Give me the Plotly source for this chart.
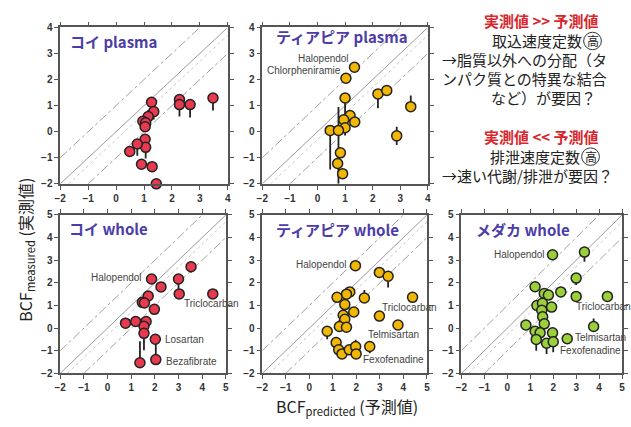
import plotly.graph_objects as go

W, H = 631, 427

# ---------------- data ----------------
# コイ plasma
p1_x = [1.27, 2.27, 2.27, 2.65, 3.47, 1.35, 1.15, 0.96, 1.06, 1.04, 1.04, 1.06, 0.76, 0.49, 0.91, 1.29, 1.44]
p1_y = [1.13, 1.23, 1.04, 1.04, 1.29, 0.77, 0.58, 0.40, 0.34, 0.19, -0.29, -0.60, -0.47, -0.76, -1.25, -1.34, -2.0]
p1_up = [0, 0, 0, 0, 0, 0, 0.25, 0, 0, 0.2, 0, 0, 0, 0, 0, 0, 0]
p1_dn = [0, 0.65, 0, 0.5, 0.48, 0.3, 0, 0, 0, 0.2, 0, 0.43, 0.45, 0, 0, 0, 0]

# ティアピア plasma
p2_x = [1.34, 1.03, 1.0, 2.19, 2.51, 3.38, 1.18, 0.95, 1.35, 1.0, 0.46, 0.76, 2.87, 0.83, 0.73, 0.91]
p2_y = [2.47, 2.05, 1.29, 1.45, 1.58, 0.96, 0.62, 0.46, 0.37, 0.15, 0.05, 0.05, -0.16, -0.81, -1.22, -1.61]
p2_up = [0, 0, 0, 0, 0, 0.43, 0, 0, 0, 0.4, 0.2, 0.9, 0.35, 0, 0, 0]
p2_dn = [0, 0, 0.75, 0.55, 0, 0, 0, 0, 0, 0.3, 1.5, 2.05, 0.35, 0, 0, 0]

# コイ whole
p4_x = [3.53, 1.86, 2.26, 3.0, 3.03, 4.45, 1.72, 1.47, 1.56, 1.98, 0.76, 1.19, 1.63, 1.54, 1.54, 2.02, 2.04, 1.37]
p4_y = [2.71, 2.17, 1.82, 2.17, 1.51, 1.51, 1.42, 1.14, 1.11, 0.83, 0.22, 0.29, 0.29, 0.08, -0.23, -0.49, -1.39, -1.53]
p4_up = [0, 0, 0, 0, 0, 0, 0, 0, 0, 0, 0, 0, 0, 0, 0, 0, 0.9, 0.95]
p4_dn = [0.25, 0, 0, 0.66, 0, 0, 0, 0, 0, 0, 0, 0.15, 0, 0, 0.75, 0, 0, 0]

# ティアピア whole
p5_x = [1.96, 2.98, 3.35, 1.72, 1.58, 1.18, 2.34, 4.39, 1.51, 1.89, 1.44, 1.51, 2.98, 3.77, 1.28, 1.58,
        0.76, 1.14, 1.25, 1.39, 1.70, 1.97, 1.99, 2.57]
p5_y = [2.76, 2.46, 2.29, 1.60, 1.50, 1.36, 1.33, 1.36, 1.04, 0.71, 0.57, 0.39, 0.53, 0.14, 0.07, 0.04,
        -0.14, -0.64, -0.96, -1.14, -0.96, -0.81, -1.14, -0.81]
p5_up = [0, 0, 0, 0, 0, 0, 0.35, 0, 0, 0, 0, 0, 0, 0, 0.3, 0, 0, 0, 0.4, 0, 0, 0.3, 0, 0]
p5_dn = [0, 0, 0.5, 0, 0, 0, 0, 0, 0, 0, 0, 0, 0, 0, 0, 0, 0.35, 0, 0, 0, 0, 0, 0, 0.3]

# メダカ whole
p6_x = [1.97, 3.36, 3.0, 1.21, 2.33, 1.61, 1.79, 3.0, 4.36, 1.29, 1.53, 1.93, 1.5, 1.54, 1.61, 0.81,
        3.76, 1.21, 1.43, 1.97, 1.26, 2.61, 1.71, 2.0]
p6_y = [3.24, 3.36, 2.21, 1.83, 1.60, 1.53, 1.46, 1.40, 1.40, 1.0, 1.10, 0.93, 0.79, 0.50, 0.19, 0.14,
        0.07, -0.14, -0.21, -0.21, -0.50, -0.47, -0.67, -0.60]
p6_up = [0, 0, 0, 0, 0, 0, 0, 0, 0, 0, 0, 0, 0, 0, 0, 0, 0.35, 0, 0, 0, 0, 0, 0, 0]
p6_dn = [0, 0.43, 0.3, 0, 0, 0, 0, 0, 0, 0, 0, 0, 0, 0, 0, 0, 0, 0, 0, 0, 0.5, 0, 0.47, 0.47]

plasma_ticks = [-2, -1, 0, 1, 2, 3, 4]
whole_ticks = [-2, -1, 0, 1, 2, 3, 4, 5]

panel_titles = ["コイ plasma", "ティアピア plasma", "コイ whole", "ティアピア whole", "メダカ whole"]

# compound labels
label_text = ["Halopendol", "Chlorpheniramie",
              "Halopendol", "Triclocarban", "Losartan", "Bezafibrate",
              "Halopendol", "Triclocarban", "Telmisartan", "Fexofenadine",
              "Halopendol", "Triclocarban", "Telmisartan", "Fexofenadine"]
label_panel = [1, 1, 2, 2, 2, 2, 3, 3, 3, 3, 4, 4, 4, 4]
label_x = [1.2, 0.91, 1.54, 3.13, 2.34, 2.37, 1.68, 2.99, 2.43, 2.2, 1.71, 2.9, 2.86, 2.21]
label_y = [2.82, 2.36, 2.24, 1.07, -0.49, -1.46, 2.83, 0.93, -0.29, -1.4, 3.24, 0.96, -0.43, -0.97]
label_anchor = ["right", "right", "right", "left", "left", "left", "right", "left", "left", "left",
                "right", "left", "left", "left"]

note_lines = ["実測値 >> 予測値", "取込速度定数", "→脂質以外への分配（タ", "ンパク質との特異な結合",
              "など）が要因？", "実測値 << 予測値", "排泄速度定数", "→速い代謝/排泄が要因？"]
circled_char = "高"

# ---------------- layout geometry (pixels) ----------------
RED = "#e8394f"
YEL = "#f2b705"
GRN = "#9bd03a"
panels = [
    dict(x=p1_x, y=p1_y, up=p1_up, dn=p1_dn, c=RED, px=(55, 225), py=(22, 183), rng=(-2, 4), ticks=plasma_ticks),
    dict(x=p2_x, y=p2_y, up=p2_up, dn=p2_dn, c=YEL, px=(260, 428), py=(22, 183), rng=(-2, 4), ticks=plasma_ticks),
    dict(x=p4_x, y=p4_y, up=p4_up, dn=p4_dn, c=RED, px=(55, 223), py=(215, 378), rng=(-2, 5), ticks=whole_ticks),
    dict(x=p5_x, y=p5_y, up=p5_up, dn=p5_dn, c=YEL, px=(260, 427), py=(215, 378), rng=(-2, 5), ticks=whole_ticks),
    dict(x=p6_x, y=p6_y, up=p6_up, dn=p6_dn, c=GRN, px=(462, 625), py=(215, 378), rng=(-2, 5), ticks=whole_ticks),
]
title_pos = [(63, 37), (272, 31), (62, 229), (272, 230), (475, 230)]

fig = go.Figure()
layout = dict(width=W, height=H, margin=dict(l=0, r=0, t=0, b=0), paper_bgcolor="white",
              plot_bgcolor="white", showlegend=False)
annotations = []
shapes = []

for i, p in enumerate(panels):
    n = "" if i == 0 else str(i + 1)
    xa, ya = "x" + n, "y" + n
    lo, hi = p["rng"]
    axstyle = dict(range=[lo, hi], tickvals=p["ticks"], showline=True, linecolor="#555", linewidth=1.5,
                   mirror="ticks", ticks="outside", ticklen=4, tickcolor="#555", tickwidth=1.2,
                   showgrid=False, zeroline=False,
                   tickfont=dict(family="Arial", size=10, color="#333", weight="bold"))
    layout["xaxis" + n] = dict(axstyle, domain=[p["px"][0] / W, p["px"][1] / W], anchor=ya)
    layout["yaxis" + n] = dict(axstyle, domain=[1 - p["py"][1] / H, 1 - p["py"][0] / H], anchor=xa)
    for off, dash, col in [(0, "solid", "#9a9a9a"), (1, "dashdot", "#a0a0a0"), (-1, "dashdot", "#a0a0a0"),
                           (-0.3, "dot", "#c8c8c8")]:
        x0 = max(lo, lo - off)
        x1 = min(hi, hi - off)
        fig.add_trace(go.Scatter(x=[x0, x1], y=[x0 + off, x1 + off], mode="lines",
                                 line=dict(color=col, width=1, dash=dash), xaxis=xa, yaxis=ya,
                                 hoverinfo="skip"))
    fig.add_trace(go.Scatter(
        x=p["x"], y=p["y"], mode="markers", xaxis=xa, yaxis=ya, cliponaxis=False,
        marker=dict(size=10, color=p["c"], line=dict(color="#222", width=1.5)),
        error_y=dict(type="data", symmetric=False, array=p["up"], arrayminus=p["dn"],
                     color="#222", thickness=1.8, width=0)))
    tx, ty = title_pos[i]
    annotations.append(dict(text="<b>" + panel_titles[i] + "</b>", x=tx / W, y=1 - ty / H,
                            xref="paper", yref="paper", xanchor="left", yanchor="middle", showarrow=False,
                            font=dict(family="Noto Sans CJK JP", size=15, color="#4b3ca8")))

for t, pi, lx, ly, an in zip(label_text, label_panel, label_x, label_y, label_anchor):
    n = "" if pi == 0 else str(pi + 1)
    annotations.append(dict(text=t, x=lx, y=ly, xref="x" + n, yref="y" + n, xanchor=an, yanchor="middle",
                            showarrow=False, font=dict(family="Arial", size=10, color="#444")))

# notes at upper right
note_y = [15, 36, 55.5, 75, 94.5, 134, 155, 174.5]
note_anchor = ["center", "right", "left", "left", "center", "center", "right", "left"]
note_x = [543, 586, 440, 440, 545, 543, 584, 440]
for t, nx, ny, an in zip(note_lines, note_x, note_y, note_anchor):
    red = "予測値" in t
    annotations.append(dict(text=("<b>" + t + "</b>") if red else t, x=nx / W, y=1 - ny / H,
                            xref="paper", yref="paper", xanchor=an, yanchor="middle", showarrow=False,
                            font=dict(family="Noto Sans CJK JP", size=15, color="#d8262c" if red else "#222")))
# circled 高
for cx, cy in [(595, 36), (593, 155)]:
    annotations.append(dict(text=circled_char, x=cx / W, y=1 - cy / H, xref="paper", yref="paper",
                            xanchor="center", yanchor="middle", showarrow=False,
                            font=dict(family="Noto Sans CJK JP", size=12, color="#222")))
    shapes.append(dict(type="circle", xref="paper", yref="paper",
                       x0=(cx - 9) / W, x1=(cx + 9) / W, y0=1 - (cy + 9) / H, y1=1 - (cy - 9) / H,
                       line=dict(color="#333", width=1)))

# axis titles
annotations.append(dict(text="BCF<sub>measured</sub> (実測値)", x=20 / W, y=1 - 251 / H, xref="paper",
                        yref="paper", textangle=-90, showarrow=False, xanchor="center", yanchor="middle",
                        font=dict(family="Noto Sans CJK JP", size=16, color="#222")))
annotations.append(dict(text="BCF<sub>predicted</sub> (予測値)", x=346 / W, y=1 - 412 / H, xref="paper",
                        yref="paper", showarrow=False, xanchor="center", yanchor="middle",
                        font=dict(family="Noto Sans CJK JP", size=16, color="#222")))

layout["annotations"] = annotations
layout["shapes"] = shapes
fig.update_layout(**layout)
fig.write_html("out.html", config={"displayModeBar": False},
               post_script="document.body.style.margin='0';document.body.style.overflow='hidden';")
